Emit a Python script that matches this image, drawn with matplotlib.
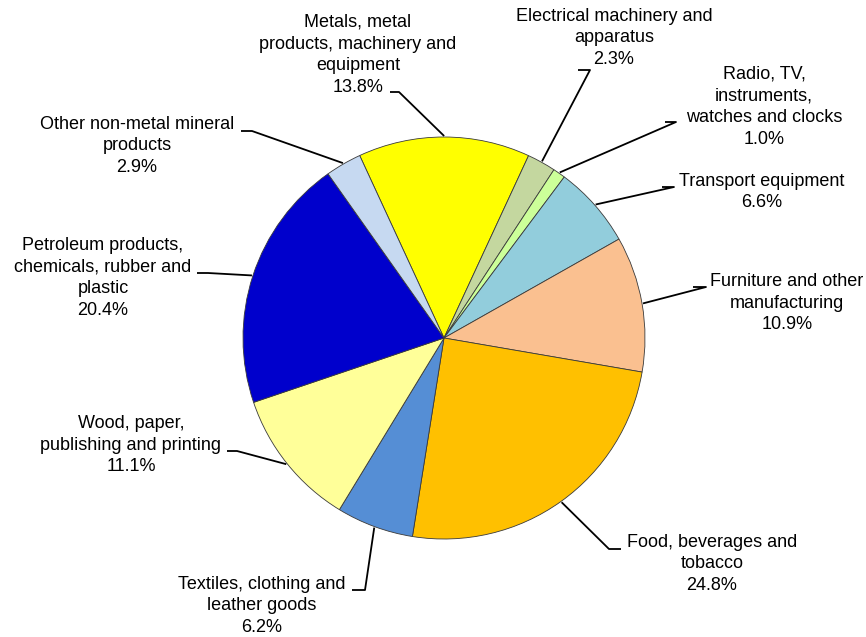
import numpy as np
import matplotlib
matplotlib.use("Agg")
import matplotlib.pyplot as plt

plt.rcParams['font.family'] = ['Liberation Sans', 'DejaVu Sans']

# Manufacturing output by industry, shares in percent
labels = [
    "Metals, metal\nproducts, machinery and\nequipment",
    "Electrical machinery and\napparatus",
    "Radio, TV,\ninstruments,\nwatches and clocks",
    "Transport equipment",
    "Furniture and other\nmanufacturing",
    "Food, beverages and\ntobacco",
    "Textiles, clothing and\nleather goods",
    "Wood, paper,\npublishing and printing",
    "Petroleum products,\nchemicals, rubber and\nplastic",
    "Other non-metal mineral\nproducts",
]
shares = [13.8, 2.3, 1.0, 6.6, 10.9, 24.8, 6.2, 11.1, 20.4, 2.9]
colors = ["#FFFF00", "#C4D79F", "#CCFF99", "#92CDDC", "#FAC090",
          "#FFC000", "#558ED5", "#FFFF99", "#0000CC", "#C6D9F1"]

W, H = 866, 637
fig = plt.figure(figsize=(W / 100, H / 100), dpi=100)
ax = fig.add_axes([0, 0, 1, 1])

cx, cy, r = 444, H - 338, 201
start = 114.8

wedges, _ = ax.pie(shares, colors=colors, startangle=start, counterclock=False,
                   center=(cx, cy), radius=r, frame=True,
                   wedgeprops=dict(edgecolor="#3a3a3a", linewidth=0.6))
ax.set_xlim(0, W)
ax.set_ylim(0, H)
ax.set_aspect('equal')
ax.axis('off')

# label block centre, leader elbow and end of the short horizontal tick (pixels from top)
label_pos = [(358, 55), (614, 38), (764, 107), (762, 192), (787, 303),
             (712, 564), (262, 606), (131, 445), (103, 278), (137, 146)]
elbows = [(399, 92), (590, 70), (676, 122), (674, 187), (706, 287),
          (609, 549), (365, 590), (237, 451), (208, 273), (252, 131)]
tick_ends = [390, 578, 665, 662, 693, 621, 352, 227, 197, 241]

for w, lab, val, (tx, ty), (ex, ey), hx in zip(wedges, labels, shares,
                                               label_pos, elbows, tick_ends):
    mid = np.deg2rad((w.theta1 + w.theta2) / 2)
    px = cx + (r + 1) * np.cos(mid)
    py = cy + (r + 1) * np.sin(mid)
    ax.plot([px, ex, hx], [py, H - ey, H - ey], color="black", lw=1.3,
            solid_capstyle='butt', zorder=3)
    ax.text(tx, H - ty, f"{lab}\n{val:.1f}%", ha='center', va='center',
            fontsize=13, color="black", linespacing=1.38)

fig.savefig("out.png", dpi=100)
